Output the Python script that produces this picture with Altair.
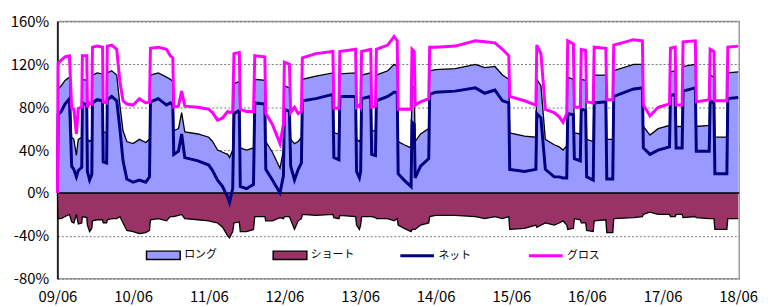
import altair as alt
import pandas as pd

# months since June 2009
month = [0.0, 0.1, 0.6, 1.2, 1.9, 2.25, 2.6, 3.0, 3.3, 3.85, 3.95, 4.65, 4.75, 5.1, 5.45, 5.55, 6.3, 7.15, 7.25, 7.8,
         7.9, 8.6, 9.4, 9.9, 10.4, 11.0, 12.0, 13.0, 14.0, 14.6, 14.75, 16.0, 17.3, 17.9, 18.3, 18.45, 19.2, 19.7, 20.2, 22.3,
         24.0, 24.6, 25.4, 26.2, 27.0, 27.3, 27.8, 28.0, 28.85, 29.0, 30.0, 31.1, 31.3, 32.9, 33.05, 34.1, 35.3, 35.85, 36.0, 36.8,
         37.0, 37.6, 38.2, 38.7, 38.85, 41.0, 43.7, 43.85, 44.65, 44.8, 47.3, 47.45, 47.9, 48.1, 48.25, 49.7, 49.85, 50.45, 50.6, 52.4,
         53.4, 53.9, 54.05, 55.0, 56.1, 56.25, 56.6, 56.75, 57.6, 58.9, 59.05, 60.0, 63.1, 66.3, 67.8, 69.4, 70.6, 71.6, 71.75, 74.1,
         75.9, 76.05, 76.7, 77.4, 78.8, 79.6, 80.2, 80.8, 80.95, 81.85, 82.0, 82.95, 83.1, 83.8, 83.95, 85.0, 85.15, 87.0, 87.15, 88.1,
         88.25, 91.4, 92.8, 92.95, 94.0, 95.3, 97.1, 97.25, 98.0, 98.15, 99.1, 99.25, 101.2, 101.35, 103.4, 103.55, 104.15, 104.3, 106.2, 106.35,
         108.0]

long_pos = [0, 97, 100, 105, 108, 52, 50, 35, 50, 52, 106, 105, 50, 48, 50, 110, 112, 111, 57, 56,
            112, 114, 110, 82, 58, 48, 46, 50, 47, 50, 110, 112, 108, 106, 104, 58, 60, 75, 57, 55,
            52, 48, 40, 38, 36, 33, 40, 102, 104, 42, 40, 42, 106, 105, 48, 38, 23, 40, 100, 98,
            50, 46, 48, 52, 106, 109, 112, 56, 55, 111, 112, 50, 48, 50, 110, 112, 58, 58, 110, 114,
            120, 118, 48, 45, 42, 100, 98, 48, 55, 60, 114, 115, 116, 120, 117, 118, 110, 106, 56, 53,
            52, 106, 100, 50, 45, 43, 40, 44, 108, 106, 56, 55, 106, 105, 50, 48, 110, 110, 50, 50,
            114, 120, 120, 62, 54, 60, 63, 113, 114, 62, 62, 118, 120, 62, 63, 110, 108, 52, 52, 112,
            113]

short_pos = [0, -24, -24, -22, -20, -27, -28, -20, -29, -28, -22, -23, -30, -36, -33, -26, -25, -25, -28, -28,
             -25, -24, -24, -22, -28, -35, -36, -38, -37, -35, -25, -24, -26, -22, -22, -22, -21, -20, -24, -25,
             -26, -27, -28, -32, -40, -42, -36, -28, -27, -36, -36, -34, -22, -22, -26, -26, -23, -24, -22, -22,
             -25, -34, -26, -24, -20, -21, -20, -23, -24, -21, -22, -30, -34, -30, -22, -22, -22, -23, -24, -24,
             -26, -24, -30, -33, -36, -34, -34, -34, -30, -28, -22, -21, -21, -22, -24, -22, -24, -22, -34, -33,
             -30, -32, -30, -28, -30, -28, -26, -30, -34, -33, -24, -25, -28, -28, -35, -36, -26, -25, -37, -37,
             -24, -23, -22, -20, -18, -20, -20, -22, -22, -20, -20, -23, -22, -23, -24, -24, -24, -34, -34, -24,
             -24]

net_pos = [0, 73, 76, 83, 88, 25, 22, 15, 21, 24, 84, 82, 20, 12, 17, 84, 87, 86, 29, 28,
           87, 90, 86, 60, 30, 13, 10, 12, 10, 15, 85, 88, 82, 84, 82, 36, 39, 55, 33, 30,
           26, 21, 12, 6, -4, -9, 4, 74, 77, 6, 4, 8, 84, 83, 22, 12, 0, 16, 78, 76,
           25, 12, 22, 28, 86, 88, 92, 33, 31, 90, 90, 20, 14, 20, 88, 90, 36, 35, 86, 90,
           94, 94, 18, 12, 6, 66, 64, 14, 25, 32, 92, 94, 95, 98, 93, 96, 86, 84, 22, 20,
           22, 74, 70, 22, 15, 15, 14, 14, 74, 73, 32, 30, 78, 77, 15, 12, 84, 85, 13, 13,
           90, 97, 98, 42, 36, 40, 43, 91, 92, 42, 42, 95, 98, 39, 39, 86, 84, 18, 18, 88,
           89]

gross_pos = [0, 121, 124, 127, 128, 79, 78, 55, 79, 80, 128, 128, 80, 84, 83, 136, 137, 136, 85, 84,
             137, 138, 134, 104, 86, 83, 82, 88, 84, 85, 135, 136, 134, 128, 126, 80, 81, 95, 81, 80,
             78, 75, 68, 70, 76, 75, 76, 130, 131, 78, 76, 76, 128, 127, 74, 64, 46, 64, 122, 120,
             75, 80, 74, 76, 126, 130, 132, 79, 79, 132, 134, 80, 82, 80, 132, 134, 80, 81, 134, 138,
             146, 142, 78, 78, 78, 134, 132, 82, 85, 88, 136, 136, 137, 142, 141, 140, 134, 128, 90, 86,
             82, 138, 130, 78, 75, 71, 66, 74, 142, 139, 80, 80, 134, 133, 85, 84, 136, 135, 87, 87,
             138, 143, 142, 82, 72, 80, 83, 135, 136, 82, 82, 141, 142, 85, 87, 134, 132, 86, 86, 136,
             137]

series_names = ["ロング", "ショート", "ネット", "グロス"]
series_colors = ["#9999FF", "#993366", "#000080", "#FF00FF"]
year_ticks = [0, 12, 24, 36, 48, 60, 72, 84, 96, 108]
pct_ticks = [-80, -40, 0, 40, 80, 120, 160]
zero_level = [0]

rows = []
for name, vals in zip(series_names, [long_pos, short_pos, net_pos, gross_pos]):
    for m, v in zip(month, vals):
        rows.append({"m": m, "series": name, "v": v})
df = pd.DataFrame(rows)

FONT = "Noto Sans CJK JP"

x_enc = alt.X(
    "m:Q",
    scale=alt.Scale(domain=[0, 108.16], nice=False, zero=False),
    axis=alt.Axis(
        values=year_ticks,
        labelExpr="(datum.value/12 + 9 < 10 ? '0' : '') + (datum.value/12 + 9) + '/06'",
        title=None, grid=False, ticks=False, domain=False,
        labelFont=FONT, labelFontSize=15, labelColor="black", labelPadding=11,
        labelOverlap=False, labelFlush=False,
    ),
)
y_enc = alt.Y(
    "v:Q",
    scale=alt.Scale(domain=[-80, 160], nice=False, zero=False),
    axis=alt.Axis(
        values=pct_ticks,
        labelExpr="datum.value + '%'",
        title=None, grid=True, gridDash=[2, 2], gridColor="#7a7a7a", gridWidth=1,
        ticks=False, domainColor="black", domainWidth=1.5,
        labelFont=FONT, labelFontSize=15, labelColor="black", labelPadding=9,
        labelOverlap=False, labelFlush=False,
    ),
)

base = alt.Chart(df)
area_filter = alt.FieldOneOfPredicate(field="series", oneOf=series_names[:2])

areas = base.transform_filter(area_filter).mark_area(interpolate="linear", strokeWidth=0).encode(
    x=x_enc, y=y_enc,
    fill=alt.Fill(
        "series:N",
        scale=alt.Scale(domain=series_names[:2], range=series_colors[:2]),
        legend=alt.Legend(
            title=None, orient="none", legendX=89, legendY=218, direction="horizontal",
            symbolType="M-1,-0.25H1V0.25H-1Z", symbolSize=1156,
            symbolStrokeColor="black", symbolStrokeWidth=1.5, symbolOpacity=1,
            labelFont=FONT, labelFontSize=11, labelColor="black", labelOffset=3,
            columnPadding=43, gridAlign="all",
        ),
    ),
)

outlines = base.transform_filter(area_filter).mark_line(color="black", strokeWidth=1.3).encode(
    x=x_enc, y=y_enc, detail="series:N"
)

zero_rule = alt.Chart(pd.DataFrame({"v": zero_level})).mark_rule(color="black", strokeWidth=1.5).encode(
    y=y_enc
)

stroke_scale = alt.Scale(domain=series_names[2:], range=series_colors[2:])
line_legend = alt.Legend(
    title=None, orient="none", legendX=345, legendY=218, direction="horizontal",
    symbolType="M-1,0H1", symbolSize=1156, symbolStrokeWidth=3,
    labelFont=FONT, labelFontSize=11, labelColor="black", labelOffset=3,
    columnPadding=52, gridAlign="all",
)

net_line = base.transform_filter(alt.datum.series == "ネット").mark_line(strokeWidth=3).encode(
    x=x_enc, y=y_enc, stroke=alt.Stroke("series:N", scale=stroke_scale, legend=line_legend)
)
gross_line = base.transform_filter(alt.datum.series == "グロス").mark_line(strokeWidth=3).encode(
    x=x_enc, y=y_enc, stroke=alt.Stroke("series:N", scale=stroke_scale, legend=line_legend)
)

chart = alt.layer(areas, outlines, zero_rule, net_line, gross_line).properties(
    width=689, height=260,
    autosize=alt.AutoSizeParams(type="none"),
    padding={"left": 50, "top": 12, "right": 21, "bottom": 27},
    background="white",
).configure_view(stroke="#9a9a9a", strokeWidth=1.5)

chart.save("out.html", embed_options={"renderer": "svg", "actions": False})
